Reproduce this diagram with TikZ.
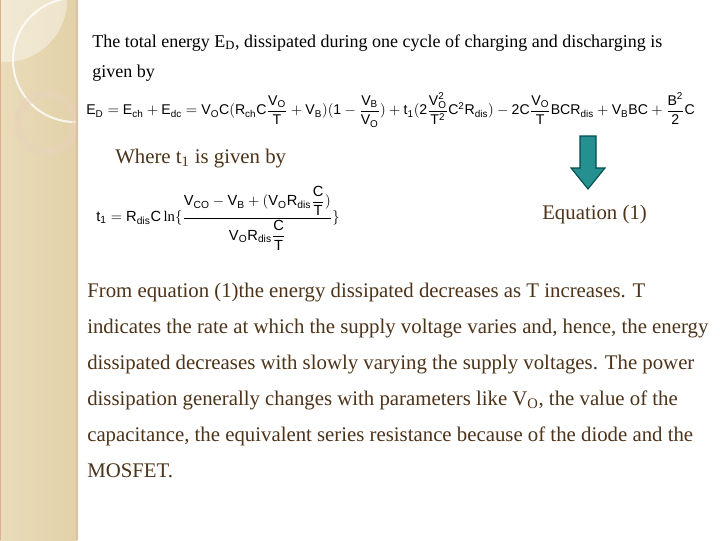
\documentclass[tikz,border=0pt]{standalone}
\usepackage{amsmath}
\usepackage{fontspec}
\setmainfont{Liberation Serif}
\setsansfont{Liberation Sans}
\definecolor{stripA}{HTML}{EADCBA}
\definecolor{stripB}{HTML}{E2D1A8}
\begin{document}
\begin{tikzpicture}[x=0.75pt,y=-0.75pt,
  body/.style={anchor=base west,inner sep=0pt,font=\fontsize{15.6}{18}\selectfont,text=brown!40!black},
  eq/.style={inner sep=0pt,font=\sffamily\fontsize{10.6}{13}\selectfont}]
\useasboundingbox (0,0) rectangle (720,540);
\fill[white] (0,0) rectangle (720,540);
% side strip
\fill[left color=stripA, right color=stripB] (0,0) rectangle (77,540);
\begin{scope}
\clip (0,0) rectangle (77,540);
\fill[white,opacity=0.4] (5,0) circle (62);
\draw[white,line width=1.5pt,opacity=0.8] (75,60) circle (62);
\draw[brown!35!white,line width=6pt,opacity=0.5] (47,123) circle (29);
\end{scope}
\draw[brown!50!white,line width=1.2pt] (77,0) -- (77,540);
\draw[brown!60!white,line width=0.8pt] (0.5,0) -- (0.5,540);

\node[body,font=\fontsize{13.5}{16}\selectfont,text=black] (l1) at (92,47) {The total energy E\textsubscript{D}, dissipated during one cycle of charging and discharging is};
\node[body,font=\fontsize{13.5}{16}\selectfont,text=black] (l2) at (92,77) {given by};

\node[eq,anchor=west] (e1) at (86,110) {$\mathsf{E_D = E_{ch} + E_{dc} = V_OC(R_{ch}C\dfrac{V_O}{T} + V_B)(1-\dfrac{V_B}{V_O}) + t_1(2\dfrac{V_O^2}{T^2}C^2R_{dis}) - 2C\dfrac{V_O}{T}BCR_{dis} + V_BBC + \dfrac{B^2}{2}C}$};

\node[body] (w) at (115,163) {Where t\textsubscript{1} is given by};

\node[eq,anchor=west,font=\sffamily\fontsize{11}{13}\selectfont] (e2) at (96,218) {$\mathsf{t_1 = R_{dis}C\ln\{\dfrac{V_{CO}-V_B+(V_OR_{dis}\dfrac{C}{T})}{V_OR_{dis}\dfrac{C}{T}}\}}$};

\node[body] (eqn) at (542,219) {Equation (1)};

\fill[draw=teal!60!black,fill=teal!60!cyan!70!black!85,line width=0.8pt]
  (580,136) -- (596,136) -- (596,168) -- (605,168) -- (588,189) -- (571,168) -- (580,168) -- cycle;

\node[body] (p1) at (87,297) {From equation (1)the energy dissipated decreases as T increases. T};
\node[body] (p2) at (87,333) {indicates the rate at which the supply voltage varies and, hence, the energy};
\node[body] (p3) at (87,369) {dissipated decreases with slowly varying the supply voltages. The power};
\node[body] (p4) at (87,405) {dissipation generally changes with parameters like V\textsubscript{O}, the value of the};
\node[body] (p5) at (87,441) {capacitance, the equivalent series resistance because of the diode and the};
\node[body] (p6) at (87,477) {MOSFET.};
\end{tikzpicture}
\end{document}
